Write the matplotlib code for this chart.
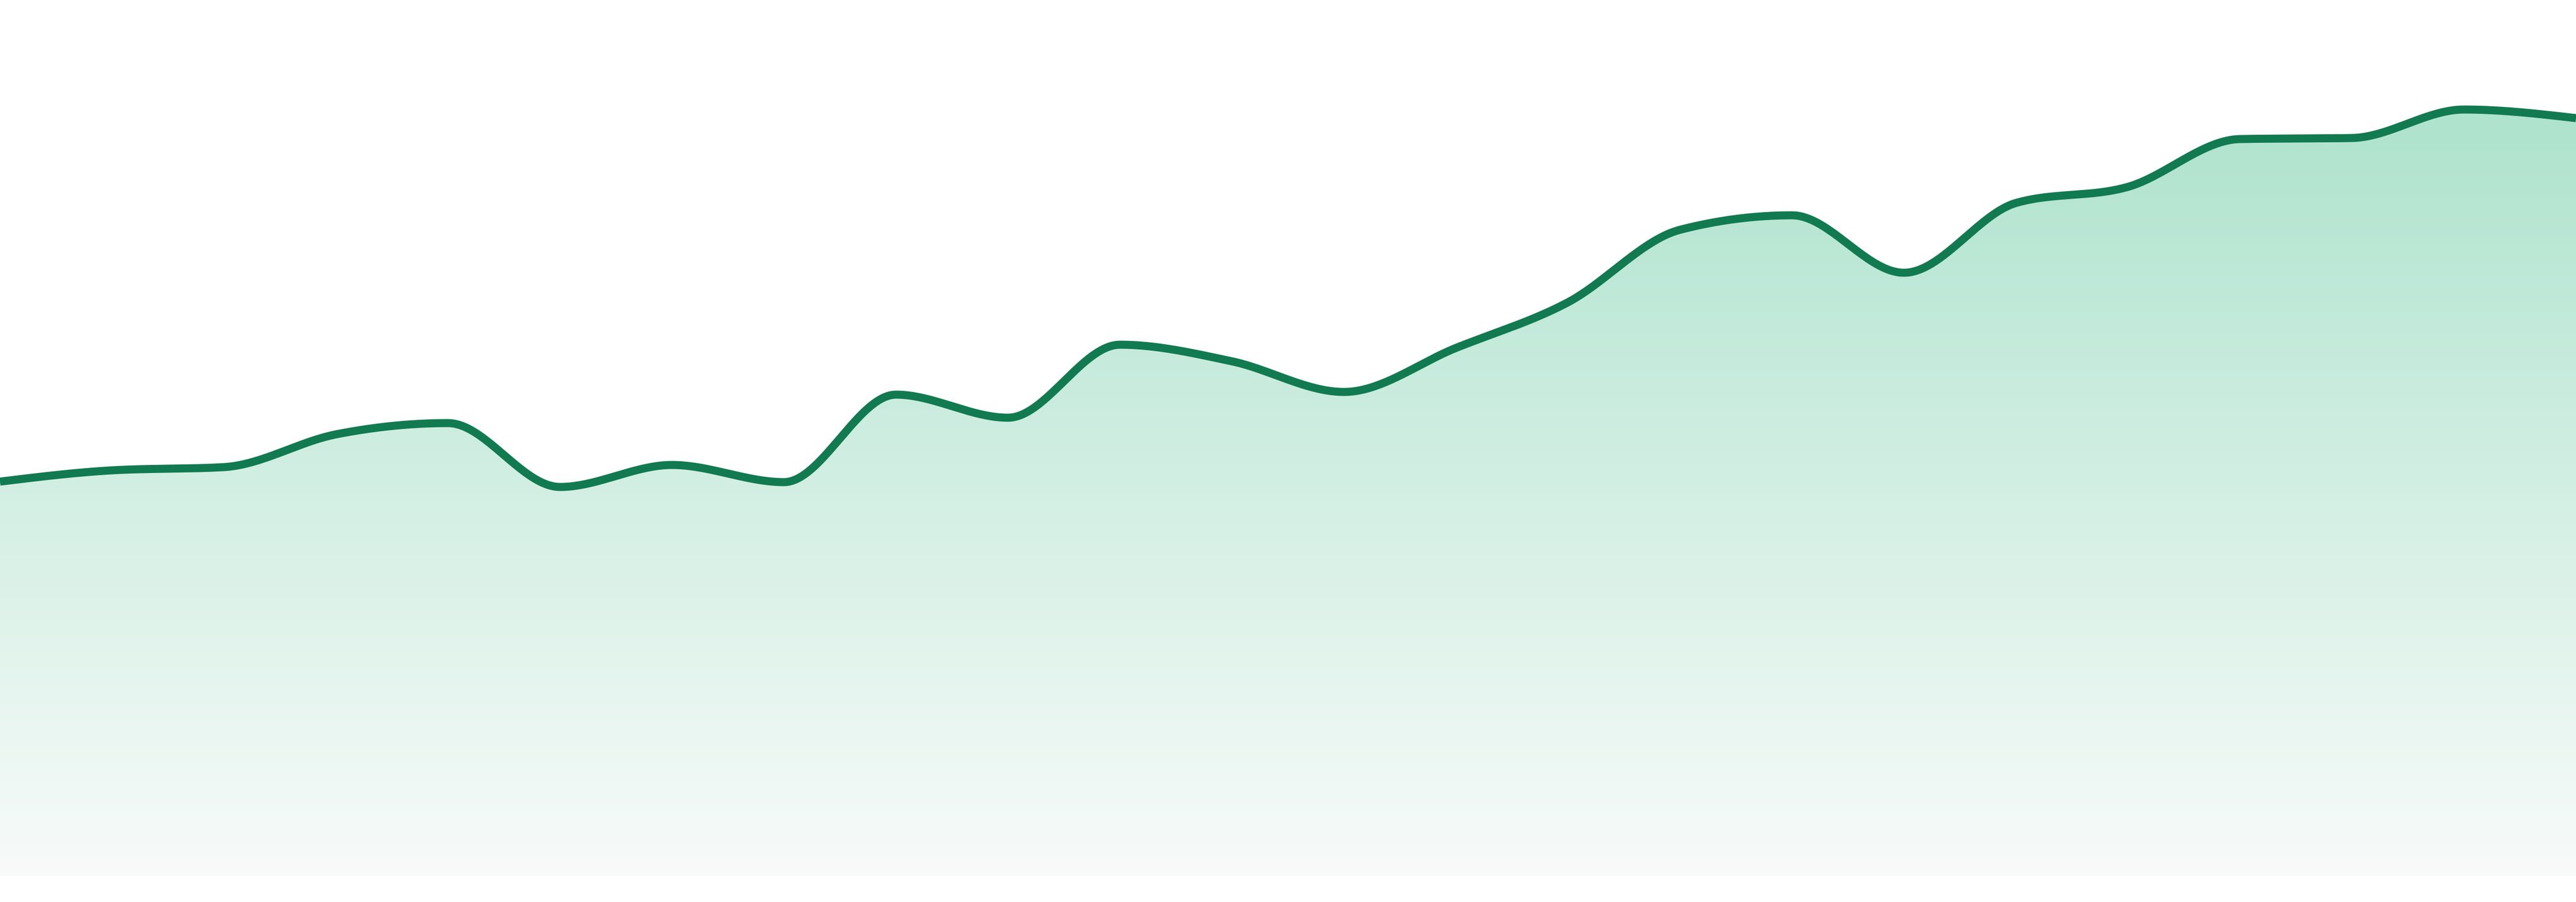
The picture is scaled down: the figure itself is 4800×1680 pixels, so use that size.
import numpy as np
import matplotlib.pyplot as plt
from matplotlib.colors import LinearSegmentedColormap

# values, one per evenly spaced step
steps = list(range(24))
values = [73.5, 75.6, 76.2, 82.3, 84.4, 72.5, 76.6, 73.4, 89.7, 85.4, 99.0, 95.9,
          90.2, 98.4, 106.9, 120.4, 123.1, 112.4, 125.4, 128.4, 137.3, 137.5, 142.8, 141.2]

line_color = "#127a50"
fill_top = "#aee3cd"
fill_bottom = "#f8fbfa"


def monotone_curve(x, y, n=40):
    """Monotone cubic (Steffen) like d3.curveMonotoneX"""
    x = np.asarray(x, float)
    y = np.asarray(y, float)
    h = np.diff(x)
    s = np.diff(y) / h
    t = np.zeros_like(y)
    for i in range(1, len(y) - 1):
        p = (s[i - 1] * h[i] + s[i] * h[i - 1]) / (h[i - 1] + h[i])
        t[i] = (np.sign(s[i - 1]) + np.sign(s[i])) * min(abs(s[i - 1]), abs(s[i]), 0.5 * abs(p))
    t[0] = (3 * s[0] - t[1]) / 2
    t[-1] = (3 * s[-1] - t[-2]) / 2
    xs, ys = [], []
    for i in range(len(h)):
        u = np.linspace(0, 1, n, endpoint=False)
        h00 = 2 * u**3 - 3 * u**2 + 1
        h10 = u**3 - 2 * u**2 + u
        h01 = -2 * u**3 + 3 * u**2
        h11 = u**3 - u**2
        xs.append(x[i] + u * h[i])
        ys.append(h00 * y[i] + h10 * h[i] * t[i] + h01 * y[i + 1] + h11 * h[i] * t[i + 1])
    xs.append([x[-1]])
    ys.append([y[-1]])
    return np.concatenate(xs), np.concatenate(ys)


cx, cy = monotone_curve(steps, values)

fig = plt.figure(figsize=(16, 5.6), dpi=300)
ax = fig.add_axes([0, 0, 1, 1])
ax.set_xlim(steps[0], steps[-1])
ax.set_ylim(-4.8, 163.2)
ax.axis("off")

# gradient under the line, clipped to the area shape
poly = ax.fill_between(cx, 0, cy, color="none", lw=0)
top = max(values)
cmap = LinearSegmentedColormap.from_list("area", [fill_bottom, fill_top])
grad = np.linspace(0, 1, 256).reshape(-1, 1)
img = ax.imshow(grad, cmap=cmap, aspect="auto", origin="lower",
                extent=[steps[0], steps[-1], 0, top], zorder=1)
img.set_clip_path(poly.get_paths()[0], transform=ax.transData)

ax.plot(cx, cy, color=line_color, lw=3.6, solid_capstyle="butt", zorder=3)

fig.savefig("out.png", dpi=300, facecolor="white")
